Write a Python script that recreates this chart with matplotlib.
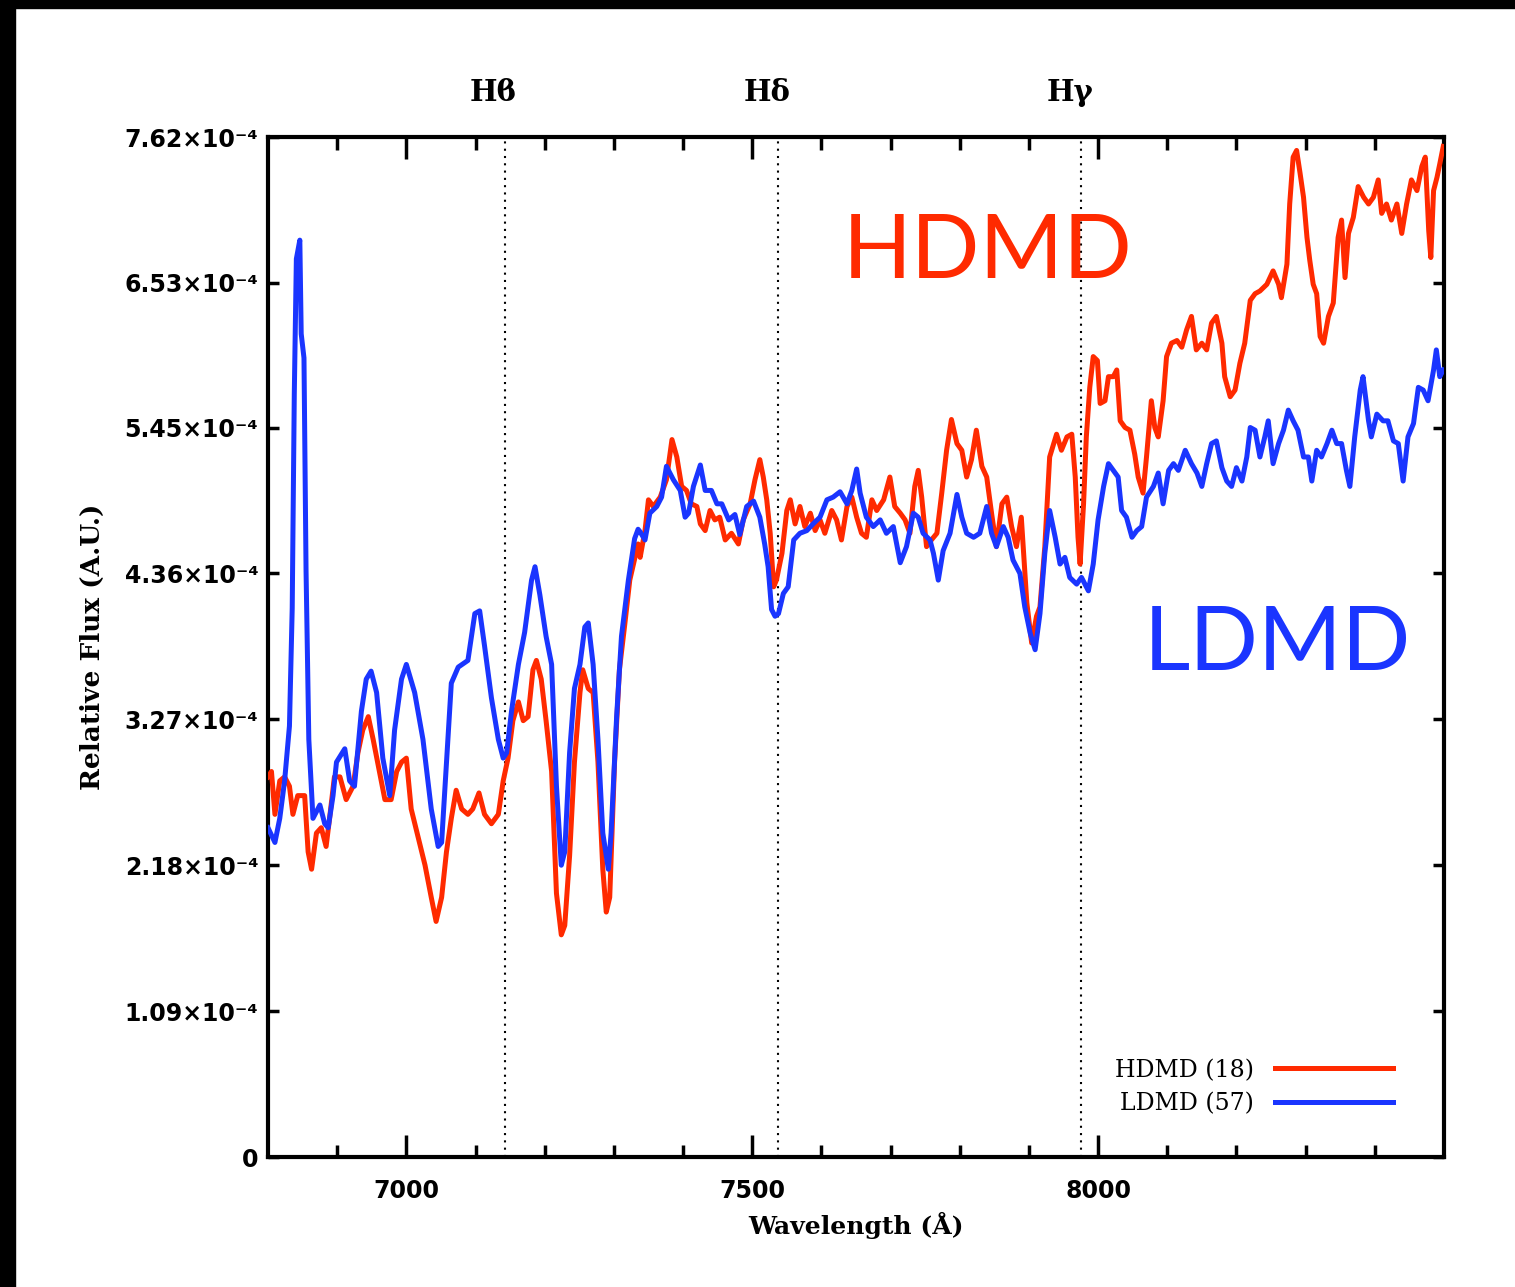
import matplotlib
matplotlib.use("Agg")
import matplotlib.pyplot as plt
from matplotlib.lines import Line2D
from matplotlib.patches import Rectangle

# HDMD stack (flux in units of 1e-4)
wl_hdmd = [6800, 6805, 6810, 6817, 6824, 6831, 6836, 6843, 6853, 6858, 6863, 6870, 6877, 6884, 6889, 6896,
           6904, 6913, 6923, 6930, 6937, 6945, 6952, 6961, 6969, 6978, 6986, 6993, 7000, 7007, 7017, 7027,
           7036, 7043, 7051, 7058, 7065, 7072, 7080, 7089, 7096, 7105, 7113, 7123, 7133, 7140, 7147, 7154,
           7162, 7169, 7176, 7183, 7188, 7195, 7202, 7210, 7217, 7224, 7229, 7236, 7243, 7251, 7255, 7263,
           7270, 7277, 7284, 7289, 7294, 7301, 7308, 7316, 7323, 7335,
           7338, 7345, 7350, 7357, 7367, 7376, 7384, 7391, 7398, 7405, 7412, 7420, 7425, 7432, 7439, 7446,
           7453, 7461, 7470, 7480, 7487, 7497, 7504, 7511, 7516, 7521, 7526, 7531, 7535, 7543, 7550, 7555,
           7562, 7569, 7576, 7584, 7591, 7598, 7605, 7615, 7622, 7629, 7637, 7644, 7651, 7658, 7665, 7673,
           7680, 7690, 7699, 7706, 7714, 7721, 7728, 7735, 7740, 7745, 7752, 7759, 7767, 7774, 7781, 7788,
           7796, 7803, 7810, 7817, 7824, 7832, 7839, 7846, 7853, 7861, 7868, 7875, 7882, 7889, 7897, 7904,
           7911,
           7916, 7923, 7930, 7940, 7947, 7955, 7962, 7967, 7971, 7974, 7979, 7983, 7988, 7993, 7999, 8003,
           8010, 8015, 8022, 8027, 8032, 8039, 8046, 8053, 8058, 8065, 8070, 8077, 8082, 8087, 8094, 8099,
           8106, 8114, 8121, 8128, 8135, 8142, 8150, 8157, 8164, 8171, 8179, 8183, 8191, 8198, 8205, 8212,
           8220, 8227, 8234, 8244, 8253, 8261, 8265, 8273, 8277, 8282, 8287, 8292, 8297, 8302, 8306, 8311,
           8316, 8321, 8326, 8333, 8340, 8347, 8352, 8357, 8362, 8369, 8376, 8384, 8391, 8398, 8405, 8410,
           8417, 8424, 8432, 8439, 8446, 8453, 8461, 8468, 8473, 8478, 8481, 8485, 8490, 8494, 8499]
flux_hdmd = [2.84, 2.88, 2.56, 2.81, 2.84, 2.77, 2.56, 2.70, 2.70, 2.28, 2.15, 2.42, 2.46, 2.32, 2.53, 2.84,
             2.84, 2.67, 2.77, 3.02, 3.19, 3.29, 3.12, 2.88, 2.67, 2.67, 2.88, 2.95, 2.98, 2.60, 2.39, 2.18,
             1.94, 1.76, 1.94, 2.28, 2.53, 2.74, 2.60, 2.56, 2.60, 2.72, 2.56, 2.49, 2.56, 2.81, 2.98, 3.26,
             3.40, 3.26, 3.29, 3.64, 3.71, 3.57, 3.26, 2.88, 1.97, 1.66, 1.73, 2.25, 2.95, 3.47, 3.64, 3.50,
             3.47, 2.95, 2.15, 1.83, 1.94, 2.95, 3.64, 3.99, 4.31, 4.58,
             4.48, 4.68, 4.91, 4.86, 4.93, 5.06, 5.36, 5.23, 5.01, 4.98, 4.88, 4.86, 4.73, 4.68, 4.83, 4.76,
             4.78, 4.61, 4.66, 4.58, 4.76, 4.88, 5.06, 5.21, 5.08, 4.91, 4.66, 4.26, 4.31, 4.51, 4.83, 4.91,
             4.73, 4.86, 4.71, 4.81, 4.68, 4.76, 4.66, 4.83, 4.76, 4.61, 4.86, 4.93, 4.78, 4.66, 4.63, 4.91,
             4.83, 4.91, 5.08, 4.86, 4.81, 4.76, 4.66, 5.01, 5.13, 4.93, 4.56, 4.61, 4.66, 4.96, 5.28, 5.51,
             5.33, 5.28, 5.08, 5.21, 5.43, 5.16, 5.08, 4.81, 4.56, 4.88, 4.93, 4.71, 4.56, 4.78, 4.14, 3.84,
             4.04,
             4.11, 4.56, 5.23, 5.40, 5.28, 5.38, 5.40, 5.08, 4.63, 4.43, 4.88, 5.38, 5.75, 5.98, 5.95, 5.63,
             5.65, 5.83, 5.83, 5.88, 5.50, 5.45, 5.43, 5.25, 5.08, 4.96, 5.23, 5.65, 5.45, 5.38, 5.65, 5.98,
             6.08, 6.10, 6.05, 6.18, 6.28, 6.03, 6.08, 6.03, 6.23, 6.28, 6.08, 5.83, 5.68, 5.73, 5.93, 6.08,
             6.40, 6.45, 6.47, 6.52, 6.62, 6.52, 6.42, 6.67, 7.12, 7.47, 7.52, 7.35, 7.17, 6.87, 6.70, 6.52,
             6.45, 6.13, 6.08, 6.28, 6.38, 6.87, 7.00, 6.57, 6.90, 7.02, 7.25, 7.17, 7.12, 7.17, 7.30, 7.05,
             7.12, 7.00, 7.12, 6.90, 7.12, 7.30, 7.22, 7.40, 7.47, 6.92, 6.72, 7.22, 7.32, 7.42, 7.55]

# LDMD stack (flux in units of 1e-4)
wl_ldmd = [6800, 6810, 6817, 6824, 6831, 6835, 6838, 6841, 6846, 6848, 6852, 6855, 6859, 6865, 6875, 6882,
           6887, 6894, 6899, 6911, 6918, 6925, 6935, 6942, 6949, 6957, 6966, 6976, 6983, 6993, 7000, 7012,
           7024, 7036, 7046, 7051, 7058, 7065, 7075, 7089, 7099, 7106, 7113, 7123, 7133, 7140, 7145, 7152,
           7162, 7171, 7181, 7186, 7193, 7202, 7210, 7217, 7224, 7229, 7236, 7243, 7251, 7258, 7263, 7270,
           7277, 7284, 7292, 7296, 7304, 7311, 7321, 7330, 7335,
           7338, 7345, 7352, 7362, 7369, 7376, 7386, 7396, 7403, 7408, 7415, 7425, 7432, 7441, 7449, 7456,
           7466, 7475, 7482, 7492, 7502, 7511, 7518, 7523, 7528, 7533, 7538, 7545, 7552, 7560, 7569, 7579,
           7588, 7598, 7608, 7617, 7627, 7637, 7644, 7651, 7656, 7665, 7675, 7685, 7694, 7704, 7714, 7723,
           7733, 7740, 7747, 7757, 7762, 7769, 7776, 7786, 7796, 7803, 7810, 7820, 7829, 7839, 7846, 7853,
           7863, 7870, 7877, 7887, 7894, 7902, 7909,
           7916, 7923, 7930, 7938, 7945, 7952, 7959, 7969, 7976, 7986, 7993, 8000, 8008, 8015, 8022, 8029,
           8034, 8041, 8049, 8056, 8063, 8070, 8080, 8087, 8094, 8102, 8109, 8116, 8126, 8135, 8143, 8150,
           8157, 8164, 8171, 8179, 8186, 8193, 8200, 8208, 8215, 8220, 8227, 8234, 8241, 8246, 8253, 8261,
           8268, 8275, 8282, 8289, 8297, 8304, 8309, 8316, 8323, 8331, 8338, 8345, 8352, 8359, 8364, 8371,
           8379, 8383, 8391, 8395, 8403, 8412, 8419, 8427, 8434, 8441, 8448, 8456, 8463, 8470, 8477, 8485,
           8489, 8494, 8499]
flux_ldmd = [2.46, 2.35, 2.53, 2.81, 3.22, 4.10, 5.70, 6.71, 6.85, 6.15, 5.97, 4.38, 3.12, 2.53, 2.63, 2.49,
             2.46, 2.70, 2.95, 3.05, 2.81, 2.77, 3.33, 3.57, 3.63, 3.47, 2.98, 2.70, 3.19, 3.57, 3.68, 3.47,
             3.12, 2.60, 2.32, 2.35, 2.95, 3.54, 3.66, 3.71, 4.06, 4.08, 3.82, 3.43, 3.12, 2.98, 3.02, 3.33,
             3.68, 3.92, 4.31, 4.41, 4.20, 3.89, 3.68, 2.77, 2.18, 2.28, 3.02, 3.50, 3.68, 3.96, 3.99, 3.68,
             3.12, 2.42, 2.15, 2.42, 3.29, 3.89, 4.31, 4.62, 4.69,
             4.67, 4.61, 4.81, 4.86, 4.93, 5.16, 5.06, 4.98, 4.78, 4.81, 5.01, 5.17, 4.98, 4.98, 4.88, 4.88,
             4.76, 4.80, 4.65, 4.86, 4.90, 4.78, 4.58, 4.41, 4.09, 4.04, 4.06, 4.21, 4.26, 4.61, 4.66, 4.68,
             4.73, 4.78, 4.91, 4.93, 4.97, 4.88, 4.98, 5.14, 4.96, 4.78, 4.71, 4.76, 4.66, 4.71, 4.44, 4.56,
             4.81, 4.78, 4.66, 4.61, 4.51, 4.31, 4.53, 4.66, 4.95, 4.78, 4.66, 4.63, 4.66, 4.86, 4.66, 4.56,
             4.71, 4.63, 4.46, 4.36, 4.11, 3.91, 3.79,
             4.06, 4.51, 4.83, 4.63, 4.43, 4.48, 4.33, 4.28, 4.33, 4.23, 4.43, 4.76, 5.01, 5.18, 5.13, 5.08,
             4.83, 4.78, 4.63, 4.68, 4.71, 4.93, 5.01, 5.11, 4.88, 5.13, 5.18, 5.13, 5.28, 5.18, 5.11, 5.01,
             5.18, 5.33, 5.35, 5.15, 5.05, 5.01, 5.15, 5.05, 5.23, 5.45, 5.43, 5.23, 5.38, 5.50, 5.18, 5.33,
             5.43, 5.58, 5.50, 5.43, 5.23, 5.23, 5.05, 5.28, 5.23, 5.33, 5.43, 5.33, 5.33, 5.13, 5.01, 5.38,
             5.73, 5.83, 5.50, 5.38, 5.55, 5.50, 5.50, 5.35, 5.33, 5.05, 5.38, 5.48, 5.75, 5.73, 5.65, 5.88,
             6.03, 5.83, 5.88]

line_wl = [7142, 7537, 7976]
line_names = ["H\u03d0", "H\u03b4", "H\u03b3"]
ytick_vals = [0, 1.09, 2.18, 3.27, 4.36, 5.45, 6.53, 7.62]
ytick_labels = ["0"] + ["%.2f\u00d710\u207b\u2074" % v for v in ytick_vals[1:]]

RED = "#ff2a00"
BLUE = "#1a35ff"
SCALE = 1e-4

fig = plt.figure(figsize=(15.15, 12.87), dpi=100)
ax = fig.add_axes([0.1769, 0.1010, 0.7762, 0.7925])

ax.plot(wl_hdmd, [f * SCALE for f in flux_hdmd], color=RED, lw=3.6, zorder=3)
ax.plot(wl_ldmd, [f * SCALE for f in flux_ldmd], color=BLUE, lw=3.6, zorder=3)

for w, name in zip(line_wl, line_names):
    ax.axvline(w, color="black", ls=(0, (1, 2.5)), lw=1.5, zorder=1)
    ax.annotate(name, xy=(w, 1.0), xycoords=("data", "axes fraction"),
                xytext=(-8, 22), textcoords="offset points", ha="center", va="bottom",
                fontsize=21, fontweight="bold", family="DejaVu Serif")

ax.set_xlim(6800, 8500)
ax.set_ylim(0, 7.62e-4)
ax.set_xticks([7000, 7500, 8000])
ax.set_xticks(range(6900, 8500, 100), minor=True)
ax.set_xticklabels(["7000", "7500", "8000"])
ax.set_yticks([v * SCALE for v in ytick_vals])
ax.set_yticklabels(ytick_labels)

ax.tick_params(which="both", direction="in", top=True, right=True, width=2.5)
ax.tick_params(axis="x", which="major", length=16, pad=16)
ax.tick_params(axis="x", which="minor", length=9)
ax.tick_params(axis="y", which="major", length=8, pad=7)
for lab in ax.get_xticklabels() + ax.get_yticklabels():
    lab.set_fontsize(17)
    lab.set_fontweight("bold")
    lab.set_family("DejaVu Sans")

for sp in ax.spines.values():
    sp.set_linewidth(3)

ax.set_xlabel("Wavelength (\u00c5)", fontsize=18, fontweight="bold", family="DejaVu Serif", labelpad=6)
ax.set_ylabel("Relative Flux (A.U.)", fontsize=19, fontweight="bold", family="DejaVu Serif", labelpad=14)

handles = [Line2D([], [], color=RED, lw=3.6), Line2D([], [], color=BLUE, lw=3.6)]
leg = ax.legend(handles, ["HDMD (18)", "LDMD (57)"], loc="lower right", bbox_to_anchor=(0.975, 0.02),
                frameon=False, markerfirst=False, handlelength=5.0, handletextpad=0.9, labelspacing=0.45,
                prop={"family": "DejaVu Serif", "size": 17})

ax.text(0.4885, 0.886, "HDMD", transform=ax.transAxes, color=RED, fontsize=65, family="Lato", va="center")
ax.text(0.745, 0.502, "LDMD", transform=ax.transAxes, color=BLUE, fontsize=65, family="Lato", va="center")

# black frame strips from the slide screenshot
fig.add_artist(Rectangle((0, 1 - 8 / 1287), 1, 8 / 1287, transform=fig.transFigure, color="black"))
fig.add_artist(Rectangle((0, 0), 15 / 1515, 1, transform=fig.transFigure, color="black"))

fig.savefig("out.png", dpi=100)
